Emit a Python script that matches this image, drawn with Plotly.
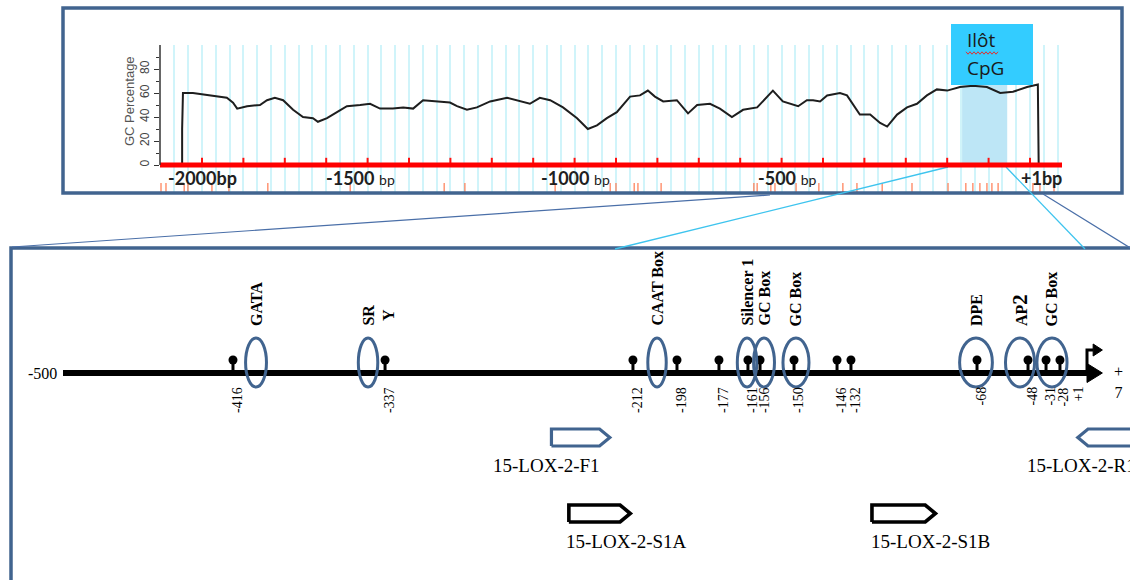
import plotly.graph_objects as go

W, H = 1130, 580

# ---------------- upper panel: GC content along the 2 kb promoter ----------------
# positions in bp relative to the transcription start site
gc_bp = [-2101, -2048, -2048, -2046, -2022, -1998, -1964, -1940, -1925, -1915,
         -1891, -1860, -1843, -1824, -1804, -1780, -1756, -1732, -1720, -1698,
         -1674, -1650, -1618, -1594, -1570, -1539, -1514, -1490, -1466, -1432,
         -1401, -1384, -1360, -1336, -1304, -1263, -1232, -1208, -1184, -1159,
         -1128, -1094, -1068, -1046, -1022, -998, -966, -942, -923, -906,
         -886, -853, -826, -804, -773, -749, -720, -693, -659, -635,
         -621, -597, -560, -539, -524, -507, -490, -459, -442, -411,
         -386, -362, -345, -321, -297, -273, -249, -225, -200, -169,
         -138, -104, -72, -41, -7, 19, 21, 73]
gc_pct = [0, 0, 30, 60, 60, 59, 57, 56, 52, 47,
          49, 50, 54, 56, 54, 46, 40, 39, 36, 39,
          44, 49, 50, 51, 47, 47, 48, 47, 54, 53,
          52, 49, 46, 48, 53, 56, 53, 51, 56, 54,
          48, 39, 30, 33, 39, 44, 57, 58, 62, 57,
          53, 54, 43, 50, 51, 47, 40, 46, 48, 57,
          62, 53, 49, 54, 54, 53, 58, 60, 58, 42,
          42, 35, 32, 42, 48, 51, 58, 63, 62, 65,
          66, 65, 60, 61, 65, 67, 0, 0]

ruler_ticks_bp = list(range(-2000, 1, 100))
ruler_labels = ["<b>-2000bp</b>",
                "<b>-1500</b> <span style='font-size:14px'>bp</span>",
                "<b>-1000</b> <span style='font-size:14px'>bp</span>",
                "<b>-500</b> <span style='font-size:14px'>bp</span>",
                "<b>+1bp</b>"]
ruler_label_bp = [-2000, -1618, -1099, -587, 29]

cpg_sites_bp = [-2099, -2087, -2043, -2034, -1976, -1935, -1841, -1642, -1415,
                -1365, -1147, -1014, -1000, -956, -947, -891, -667, -659, -626,
                -616, -565, -510, -452, -418, -357, -285, -198, -155, -138,
                -121, -104, -92, -77, 7, 24, 58]
cpg_island_bp = [-164, -55]
gc_yticks = [0, 20, 40, 60, 80]

# ---------------- lower panel: promoter schematic (-500 .. +1) ----------------
# track units: 0 = start of the drawn promoter (-500), 100 = TSS (+1); not to scale
tss_track = 100.0
line_end_track = 101.5
site_track = [16.6, 31.45, 55.66, 59.96, 64.06, 66.89, 68.07, 71.39, 75.59,
              76.95, 89.26, 94.24, 96.0, 97.36]
site_label = ["-416", "-337", "-212", "-198", "-177", "-161", "-156", "-150",
              "-146", "-132", "-68", "-48", "-31", "-28"]

motif_names = ["<b>GATA</b>", "<b>SR<br>Y</b>", "<b>CAAT Box</b>",
               "<b>Silencer 1</b>", "<b>GC Box</b>", "<b>GC Box</b>",
               "<b>DPE</b>", "<b>AP<span style='font-size:21px'>2</span></b>",
               "<b>GC Box</b>"]
motif_track = [18.85, 29.79, 58.01, 66.80, 68.46, 71.58, 89.16, 93.46, 96.58]
motif_halfwidth = [1.02, 0.95, 0.9, 0.95, 1.02, 1.27, 1.6, 1.42, 1.47]

primer_names = ["15-LOX-2-F1", "15-LOX-2-R1", "15-LOX-2-S1A", "15-LOX-2-S1B"]
primer_from = [47.7, 106.5, 49.4, 79.0]
primer_to = [53.4, 99.1, 55.4, 85.2]
primer_row = [0, 0, 1, 1]
primer_label_x = [41.8, 93.9, 48.9, 78.7]

BLUE = "#41648F"
CYAN_LINE = "#3EC4EE"


def px(x):
    return x / W


def py(y):
    return 1 - y / H


def segments(xs, y0, y1):
    X, Y = [], []
    for x in xs:
        X += [x, x, None]
        Y += [y0, y1, None]
    return X, Y


fig = go.Figure()

# GC profile
fig.add_trace(go.Scatter(x=gc_bp, y=gc_pct, mode="lines",
                         line=dict(color="#1e1e1e", width=2),
                         xaxis="x", yaxis="y", hoverinfo="skip"))
# ruler ticks on the red sequence bar
rx, ry = segments(ruler_ticks_bp, 0, 6)
fig.add_trace(go.Scatter(x=rx, y=ry, mode="lines",
                         line=dict(color="#FF1010", width=2),
                         xaxis="x", yaxis="y", hoverinfo="skip"))
# CpG dinucleotide positions
cx, cy = segments(cpg_sites_bp, -15, -22.5)
fig.add_trace(go.Scatter(x=cx, y=cy, mode="lines",
                         line=dict(color="#FF7A50", width=1.4),
                         opacity=0.85, xaxis="x", yaxis="y", hoverinfo="skip"))

# promoter line with arrowhead
fig.add_trace(go.Scatter(x=[0, tss_track + 0.1], y=[0, 0], mode="lines",
                         line=dict(color="black", width=6),
                         xaxis="x2", yaxis="y2", hoverinfo="skip"))
fig.add_trace(go.Scatter(x=[tss_track, line_end_track, tss_track, tss_track],
                         y=[-9.5, 0, 9.5, -9.5], mode="lines", fill="toself",
                         fillcolor="black", line=dict(color="black", width=1),
                         xaxis="x2", yaxis="y2", hoverinfo="skip"))
# TSS bent arrow
fig.add_trace(go.Scatter(x=[tss_track, tss_track, tss_track + 0.6],
                         y=[0, 23, 23], mode="lines",
                         line=dict(color="black", width=3),
                         xaxis="x2", yaxis="y2", hoverinfo="skip"))
fig.add_trace(go.Scatter(x=[tss_track + 0.6, line_end_track, tss_track + 0.6, tss_track + 0.6],
                         y=[17, 23, 29, 17], mode="lines", fill="toself",
                         fillcolor="black", line=dict(color="black", width=1),
                         xaxis="x2", yaxis="y2", hoverinfo="skip"))

# binding-site pins
sx, sy = segments(site_track, 0, 11)
fig.add_trace(go.Scatter(x=sx, y=sy, mode="lines",
                         line=dict(color="black", width=3),
                         xaxis="x2", yaxis="y2", hoverinfo="skip"))
fig.add_trace(go.Scatter(x=site_track, y=[13] * len(site_track), mode="markers",
                         marker=dict(color="black", size=9, symbol="circle"),
                         xaxis="x2", yaxis="y2", hoverinfo="skip"))

# primers
row_y = [-64.5, -140.5]
half_h = 8.5
for name, a, b, r in zip(primer_names, primer_from, primer_to, primer_row):
    d = 1.0 if b > a else -1.0
    base = b - d * 1.0
    yc = row_y[r]
    color = BLUE if r == 0 else "black"
    fig.add_trace(go.Scatter(
        x=[a, base, b, base, a, a],
        y=[yc - half_h, yc - half_h, yc, yc + half_h, yc + half_h, yc - half_h],
        mode="lines", fill="toself", fillcolor="white",
        line=dict(color=color, width=3.2 if r == 0 else 3.6),
        xaxis="x2", yaxis="y2", hoverinfo="skip"))

shapes = [
    # outer frames
    dict(type="rect", xref="paper", yref="paper", x0=px(63), x1=px(1122),
         y0=py(193), y1=py(8), line=dict(color=BLUE, width=3.5)),
    dict(type="rect", xref="paper", yref="paper", x0=px(11), x1=px(1160),
         y0=py(640), y1=py(248), line=dict(color=BLUE, width=3.5)),
    # zoom connectors
    dict(type="line", xref="paper", yref="paper", x0=px(12), y0=py(247),
         x1=px(770), y1=py(195), line=dict(color="#4A6FA8", width=1.2)),
    dict(type="line", xref="paper", yref="paper", x0=px(1043), y0=py(194),
         x1=px(1132), y1=py(249), line=dict(color="#4A6FA8", width=1.2)),
    dict(type="line", xref="paper", yref="paper", x0=px(948), y0=py(167),
         x1=px(615), y1=py(249), line=dict(color=CYAN_LINE, width=1.3)),
    dict(type="line", xref="paper", yref="paper", x0=px(1006), y0=py(167),
         x1=px(1085), y1=py(249), line=dict(color=CYAN_LINE, width=1.3)),
    # CpG island shading
    dict(type="rect", xref="x", yref="y", x0=cpg_island_bp[0], x1=cpg_island_bp[1],
         y0=0, y1=100, fillcolor="#BDE6F6", line=dict(width=0), layer="between"),
    # red sequence bar
    dict(type="line", xref="x domain", yref="y", x0=0, x1=1, y0=0, y1=0,
         line=dict(color="#FF0000", width=5)),
    # y axis line
    dict(type="line", xref="x domain", yref="y", x0=0, x1=0, y0=0, y1=100,
         line=dict(color="#333333", width=1.5)),
    # island label box
    dict(type="rect", xref="paper", yref="paper", x0=px(951), x1=px(1033),
         y0=py(85), y1=py(24), fillcolor="#33CCFF", line=dict(width=0)),
]

# spell-check squiggle under the island label
sq = []
xq = 966.0
k = 0
while xq <= 998:
    yq = 53 + (1.2 if k % 2 else -1.2)
    sq.append(f"{px(xq):.5f},{py(yq):.5f}")
    xq += 2
    k += 1
shapes.append(dict(type="path", xref="paper", yref="paper",
                   path="M " + " L ".join(sq), line=dict(color="#E03030", width=1)))

# motif ellipses
for c, hw in zip(motif_track, motif_halfwidth):
    shapes.append(dict(type="circle", xref="x2", yref="y2", x0=c - hw, x1=c + hw,
                       y0=-14, y1=35, line=dict(color=BLUE, width=3), layer="above"))

annotations = []
for lab, xb in zip(ruler_labels, ruler_label_bp):
    annotations.append(dict(x=xb, y=-10.5, xref="x", yref="y", text=lab,
                            showarrow=False, xanchor="center", yanchor="middle",
                            font=dict(family="Lato", size=18, color="#202020")))
annotations.append(dict(x=px(130), y=py(101), xref="paper", yref="paper",
                        text="GC Percentage", textangle=-90, showarrow=False,
                        xanchor="center", yanchor="middle",
                        font=dict(family="Liberation Sans", size=13, color="#555555")))
annotations.append(dict(x=px(965), y=py(40), xref="paper", yref="paper", text="Ilôt",
                        showarrow=False, xanchor="left", yanchor="middle",
                        font=dict(family="Open Sans", size=19, color="#1a1a1a")))
annotations.append(dict(x=px(965), y=py(68), xref="paper", yref="paper", text="CpG",
                        showarrow=False, xanchor="left", yanchor="middle",
                        font=dict(family="Open Sans", size=19, color="#1a1a1a")))

serif = "Liberation Serif"
annotations.append(dict(x=0, y=0, xref="x2", yref="y2", text="-500", showarrow=False,
                        xanchor="right", yanchor="middle", xshift=-4,
                        font=dict(family=serif, size=16, color="black")))
annotations.append(dict(x=line_end_track, y=-9, xref="x2", yref="y2", text="+<br>7",
                        showarrow=False, xanchor="left", yanchor="middle", xshift=10,
                        font=dict(family=serif, size=16, color="black")))
for t, lab in zip(site_track, site_label):
    annotations.append(dict(x=t, y=-12, xref="x2", yref="y2", text=lab,
                            textangle=-90, showarrow=False, xanchor="center",
                            yanchor="top", xshift=4,
                            font=dict(family=serif, size=14, color="black")))
annotations.append(dict(x=tss_track, y=-12, xref="x2", yref="y2", text="+1",
                        textangle=-90, showarrow=False, xanchor="center",
                        yanchor="top", xshift=-9,
                        font=dict(family=serif, size=14, color="black")))
for t, lab in zip(motif_track, motif_names):
    annotations.append(dict(x=t, y=45, xref="x2", yref="y2", text=lab,
                            textangle=-90, showarrow=False, xanchor="center",
                            yanchor="bottom", xshift=10 if "<br>" in lab else 0,
                            font=dict(family=serif, size=16, color="black")))
for name, lx, r in zip(primer_names, primer_label_x, primer_row):
    annotations.append(dict(x=lx, y=row_y[r] - 27.5, xref="x2", yref="y2", text=name,
                            showarrow=False, xanchor="left", yanchor="middle",
                            font=dict(family=serif, size=19, color="black")))

fig.update_layout(
    width=W, height=H, margin=dict(l=0, r=0, t=0, b=0),
    paper_bgcolor="white", plot_bgcolor="rgba(0,0,0,0)", showlegend=False,
    xaxis=dict(domain=[px(160), px(1062)], range=[-2101.45, 77.33], anchor="y",
               showgrid=True, gridcolor="#D0F4FA", gridwidth=1.5,
               tick0=-2000, dtick=100 / 3, showticklabels=False, ticks="",
               zeroline=False, showline=False, fixedrange=True),
    yaxis=dict(domain=[py(192), py(45)], range=[-22.5, 100], anchor="x",
               tickvals=gc_yticks, ticks="outside", ticklen=5, tickcolor="#333333",
               tickwidth=1.2, tickangle=-90,
               tickfont=dict(family="Liberation Sans", size=12, color="#444444"),
               minor=dict(tickvals=[10, 30, 50, 70, 90], ticks="outside", ticklen=3,
                          tickcolor="#333333"),
               showgrid=False, zeroline=False, showline=False, fixedrange=True),
    xaxis2=dict(domain=[0, 1], range=[-6.152, 104.199], anchor="y2", visible=False),
    yaxis2=dict(domain=[0, 1], range=[-207, 373], anchor="x2", visible=False),
    shapes=shapes, annotations=annotations,
)

fig.write_html("out.html", config={"displayModeBar": False})
